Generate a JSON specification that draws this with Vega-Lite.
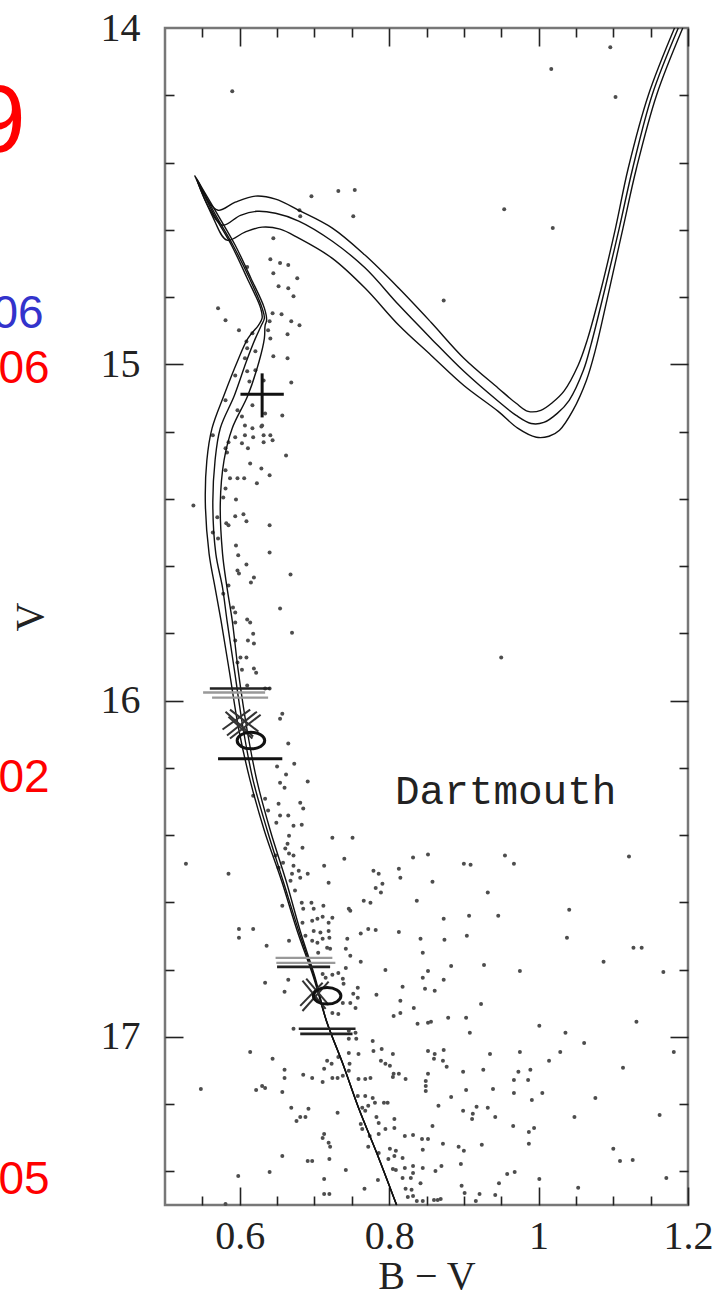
{
"$schema": "https://vega.github.io/schema/vega-lite/v6.json",
"width": 523, "height": 1177,
"autosize": {"type": "none"},
"padding": {"left": 165, "top": 28, "right": 35, "bottom": 92},
"background": "white",
"config": {
  "view": {"stroke": "#777", "strokeWidth": 2.5},
  "axis": {"grid": false, "domain": false, "labelFont": "Liberation Serif", "labelFontSize": 40, "labelColor": "#222", "titleFont": "Liberation Serif", "titleFontSize": 40, "titleFontWeight": "normal", "titleColor": "#222", "tickColor": "#222", "tickWidth": 1.6}
},
"resolve": {"axis": {"x": "independent", "y": "independent"}, "scale": {"x": "shared", "y": "shared"}},
"datasets": {
"stars": [
{"b":0.590,"v":14.188},{"b":0.696,"v":14.500},{"b":0.732,"v":14.485},{"b":0.754,"v":14.482},{"b":0.752,"v":14.560},{"b":0.680,"v":14.542},{"b":0.681,"v":14.560},{"b":0.645,"v":14.625},{"b":0.641,"v":14.688},{"b":0.654,"v":14.699},{"b":0.665,"v":14.705},{"b":0.645,"v":14.729},{"b":0.677,"v":14.744},{"b":0.610,"v":14.711},{"b":0.652,"v":14.768},{"b":0.665,"v":14.774},{"b":0.672,"v":14.798},{"b":0.571,"v":14.833},{"b":0.581,"v":14.869},{"b":0.599,"v":14.899},{"b":0.644,"v":14.848},{"b":0.656,"v":14.851},{"b":0.669,"v":14.872},{"b":0.680,"v":14.884},{"b":0.664,"v":14.911},{"b":0.640,"v":14.872},{"b":0.638,"v":14.899},{"b":0.617,"v":14.908},{"b":0.609,"v":14.932},{"b":0.610,"v":14.952},{"b":0.621,"v":14.961},{"b":0.641,"v":14.923},{"b":0.645,"v":14.976},{"b":0.664,"v":14.982},{"b":0.607,"v":14.982},{"b":0.594,"v":15.033},{"b":0.610,"v":15.021},{"b":0.621,"v":15.018},{"b":0.632,"v":15.048},{"b":0.669,"v":15.054},{"b":0.613,"v":15.051},{"b":0.657,"v":15.152},{"b":0.634,"v":15.146},{"b":0.617,"v":15.122},{"b":0.581,"v":15.107},{"b":0.603,"v":15.155},{"b":0.607,"v":15.182},{"b":0.630,"v":15.182},{"b":0.597,"v":15.137},
{"b":1.096,"v":14.057},{"b":1.017,"v":14.122},{"b":1.103,"v":14.205},{"b":0.954,"v":14.539},{"b":1.019,"v":14.595},{"b":0.873,"v":14.810},{"b":0.950,"v":15.872},
{"b":0.617,"v":15.190},{"b":0.629,"v":15.185},{"b":0.607,"v":15.211},{"b":0.618,"v":15.217},{"b":0.632,"v":15.211},{"b":0.641,"v":15.211},{"b":0.644,"v":15.226},{"b":0.594,"v":15.217},{"b":0.603,"v":15.235},{"b":0.611,"v":15.250},{"b":0.632,"v":15.232},{"b":0.585,"v":15.232},{"b":0.583,"v":15.262},{"b":0.564,"v":15.211},{"b":0.581,"v":15.250},{"b":0.662,"v":15.271},{"b":0.614,"v":15.295},{"b":0.629,"v":15.310},{"b":0.640,"v":15.330},{"b":0.623,"v":15.354},{"b":0.581,"v":15.315},{"b":0.587,"v":15.339},{"b":0.597,"v":15.339},{"b":0.606,"v":15.339},{"b":0.581,"v":15.369},{"b":0.578,"v":15.396},{"b":0.595,"v":15.402},{"b":0.538,"v":15.420},{"b":0.570,"v":15.455},{"b":0.582,"v":15.473},{"b":0.585,"v":15.479},{"b":0.594,"v":15.452},{"b":0.605,"v":15.446},{"b":0.609,"v":15.467},{"b":0.640,"v":15.479},{"b":0.564,"v":15.500},{"b":0.571,"v":15.518},{"b":0.595,"v":15.539},{"b":0.598,"v":15.568},{"b":0.640,"v":15.560},{"b":0.609,"v":15.595},{"b":0.597,"v":15.613},{"b":0.599,"v":15.622},{"b":0.619,"v":15.634},{"b":0.615,"v":15.649},{"b":0.668,"v":15.625},{"b":0.585,"v":15.658},{"b":0.578,"v":15.682},{"b":0.591,"v":15.723},{"b":0.594,"v":15.738},{"b":0.594,"v":15.768},{"b":0.610,"v":15.759},{"b":0.614,"v":15.768},{"b":0.654,"v":15.726},{"b":0.670,"v":15.798},{"b":0.618,"v":15.801},{"b":0.611,"v":15.821},{"b":0.619,"v":15.830},{"b":0.594,"v":15.821},{"b":0.601,"v":15.872},{"b":0.609,"v":15.872},{"b":0.597,"v":15.887},{"b":0.603,"v":15.908},{"b":0.619,"v":15.905},{"b":0.622,"v":15.917},{"b":0.610,"v":15.955},{"b":0.634,"v":15.964},{"b":0.640,"v":15.964},{"b":0.657,"v":16.039},{"b":0.654,"v":16.054},{"b":0.665,"v":16.128},{"b":0.673,"v":16.188},{"b":0.650,"v":16.196},{"b":0.691,"v":16.241},{"b":0.662,"v":16.220},{"b":0.654,"v":16.244},{"b":0.660,"v":16.259},{"b":0.618,"v":16.283},{"b":0.634,"v":16.292},{"b":0.652,"v":16.307},{"b":0.681,"v":16.304},{"b":0.685,"v":16.321},{"b":0.638,"v":16.327},{"b":0.654,"v":16.342},{"b":0.665,"v":16.342},{"b":0.672,"v":16.372},{"b":0.683,"v":16.369},{"b":0.649,"v":16.363},{"b":0.666,"v":16.402},{"b":0.724,"v":16.408},{"b":0.751,"v":16.408},
{"b":0.528,"v":16.485},{"b":0.585,"v":16.515},{"b":0.664,"v":16.426},{"b":0.661,"v":16.440},{"b":0.666,"v":16.455},{"b":0.684,"v":16.438},{"b":0.648,"v":16.461},{"b":0.658,"v":16.482},{"b":0.672,"v":16.461},{"b":0.652,"v":16.497},{"b":0.672,"v":16.491},{"b":0.679,"v":16.506},{"b":0.670,"v":16.515},{"b":0.681,"v":16.527},{"b":0.691,"v":16.515},{"b":0.668,"v":16.536},{"b":0.674,"v":16.565},{"b":0.713,"v":16.491},{"b":0.740,"v":16.470},{"b":0.719,"v":16.542},{"b":0.657,"v":16.610},{"b":0.683,"v":16.601},{"b":0.685,"v":16.619},{"b":0.696,"v":16.601},{"b":0.699,"v":16.619},{"b":0.712,"v":16.610},{"b":0.748,"v":16.625},{"b":0.766,"v":16.595},{"b":0.775,"v":16.601},{"b":0.779,"v":16.506},{"b":0.786,"v":16.515},{"b":0.791,"v":16.545},{"b":0.782,"v":16.557},{"b":0.789,"v":16.571},{"b":0.813,"v":16.500},{"b":0.815,"v":16.527},{"b":0.832,"v":16.467},{"b":0.852,"v":16.458},{"b":0.837,"v":16.595},{"b":0.599,"v":16.679},{"b":0.618,"v":16.679},{"b":0.599,"v":16.705},{"b":0.636,"v":16.729},{"b":0.666,"v":16.714},{"b":0.684,"v":16.661},{"b":0.688,"v":16.699},{"b":0.697,"v":16.655},{"b":0.704,"v":16.649},{"b":0.711,"v":16.643},{"b":0.719,"v":16.661},{"b":0.724,"v":16.646},{"b":0.699,"v":16.685},{"b":0.708,"v":16.690},{"b":0.719,"v":16.685},{"b":0.720,"v":16.705},{"b":0.697,"v":16.714},{"b":0.704,"v":16.720},{"b":0.711,"v":16.708},{"b":0.717,"v":16.735},{"b":0.721,"v":16.738},{"b":0.705,"v":16.750},{"b":0.744,"v":16.708},{"b":0.742,"v":16.738},{"b":0.748,"v":16.759},{"b":0.762,"v":16.693},{"b":0.772,"v":16.679},{"b":0.782,"v":16.682},{"b":0.813,"v":16.688},{"b":0.842,"v":16.708},{"b":0.845,"v":16.750},{"b":0.746,"v":16.619},{"b":0.762,"v":16.777},{"b":0.742,"v":16.795},{"b":0.732,"v":16.810},{"b":0.738,"v":16.827},{"b":0.739,"v":16.842},{"b":0.724,"v":16.815},{"b":0.711,"v":16.813},{"b":0.715,"v":16.824},{"b":0.795,"v":16.801},{"b":0.845,"v":16.824},{"b":0.852,"v":16.804},{"b":0.660,"v":16.866},{"b":0.634,"v":16.839},{"b":0.665,"v":16.830},{"b":0.758,"v":16.854},{"b":0.752,"v":16.872},{"b":0.758,"v":16.884},{"b":0.748,"v":16.899},{"b":0.755,"v":16.914},{"b":0.738,"v":16.899},{"b":0.783,"v":16.875},{"b":0.818,"v":16.851},{"b":0.815,"v":16.893},{"b":0.833,"v":16.914},{"b":0.806,"v":16.938},{"b":0.815,"v":16.929},{"b":0.838,"v":16.961},{"b":0.852,"v":16.958},{"b":0.672,"v":16.976},{"b":0.732,"v":16.932},{"b":0.724,"v":16.929},{"b":0.746,"v":16.982},{"b":0.755,"v":16.988},{"b":0.756,"v":17.006},{"b":0.746,"v":17.006},{"b":0.778,"v":17.012},{"b":0.779,"v":17.042},{"b":0.790,"v":17.036},{"b":0.805,"v":17.051},{"b":0.746,"v":17.048},{"b":0.759,"v":17.051},{"b":0.732,"v":17.060},{"b":0.747,"v":17.080},{"b":0.746,"v":17.101},{"b":0.738,"v":17.116},{"b":0.723,"v":17.080},{"b":0.717,"v":17.071},{"b":0.713,"v":17.095},{"b":0.724,"v":17.122},{"b":0.789,"v":17.071},{"b":0.795,"v":17.080},{"b":0.801,"v":17.086},{"b":0.806,"v":17.110},{"b":0.805,"v":17.119},{"b":0.813,"v":17.110},{"b":0.822,"v":17.125},{"b":0.614,"v":17.045},{"b":0.644,"v":17.065},{"b":0.660,"v":17.098},{"b":0.660,"v":17.122},{"b":0.685,"v":17.113},{"b":0.697,"v":17.122},{"b":0.711,"v":17.134},{"b":0.731,"v":17.122},{"b":0.759,"v":17.125},{"b":0.768,"v":17.125},{"b":0.775,"v":17.122},{"b":0.630,"v":17.146},{"b":0.634,"v":17.152},{"b":0.622,"v":17.158},{"b":0.657,"v":17.164},{"b":0.548,"v":17.155},{"b":0.758,"v":17.176},{"b":0.768,"v":17.176},{"b":0.778,"v":17.182},{"b":0.764,"v":17.211},{"b":0.772,"v":17.205},{"b":0.781,"v":17.196},{"b":0.793,"v":17.196},{"b":0.798,"v":17.196},{"b":0.768,"v":17.220},{"b":0.783,"v":17.238},{"b":0.786,"v":17.256},{"b":0.807,"v":17.244},{"b":0.807,"v":17.271},{"b":0.795,"v":17.274},{"b":0.764,"v":17.274},{"b":0.762,"v":17.259},{"b":0.774,"v":17.295},{"b":0.786,"v":17.289},{"b":0.731,"v":17.226},{"b":0.681,"v":17.238},{"b":0.688,"v":17.238},{"b":0.676,"v":17.250},{"b":0.669,"v":17.211},{"b":0.692,"v":17.214},{"b":0.713,"v":17.289},{"b":0.711,"v":17.301},{"b":0.719,"v":17.315},{"b":0.721,"v":17.327},{"b":0.821,"v":17.295},{"b":0.832,"v":17.292},{"b":0.844,"v":17.304},{"b":0.852,"v":17.304},{"b":0.845,"v":17.336},{"b":0.657,"v":17.354},{"b":0.691,"v":17.369},{"b":0.697,"v":17.369},{"b":0.720,"v":17.363},{"b":0.742,"v":17.396},{"b":0.772,"v":17.327},{"b":0.786,"v":17.345},{"b":0.801,"v":17.333},{"b":0.809,"v":17.339},{"b":0.807,"v":17.354},{"b":0.799,"v":17.363},{"b":0.818,"v":17.360},{"b":0.832,"v":17.384},{"b":0.821,"v":17.390},{"b":0.809,"v":17.396},{"b":0.805,"v":17.393},{"b":0.832,"v":17.405},{"b":0.845,"v":17.390},{"b":0.829,"v":17.420},{"b":0.818,"v":17.420},{"b":0.842,"v":17.435},{"b":0.785,"v":17.426},{"b":0.713,"v":17.423},{"b":0.767,"v":17.452},{"b":0.822,"v":17.452},{"b":0.830,"v":17.455},{"b":0.832,"v":17.473},{"b":0.825,"v":17.476},{"b":0.837,"v":17.488},{"b":0.845,"v":17.488},{"b":0.713,"v":17.467},{"b":0.720,"v":17.467},{"b":0.598,"v":17.414},{"b":0.640,"v":17.402},{"b":0.581,"v":17.497},
{"b":0.900,"v":16.485},{"b":0.909,"v":16.488},{"b":0.955,"v":16.461},{"b":0.967,"v":16.485},{"b":1.121,"v":16.464},{"b":0.858,"v":16.539},{"b":0.932,"v":16.571},{"b":1.041,"v":16.622},{"b":0.873,"v":16.649},{"b":0.907,"v":16.640},{"b":0.946,"v":16.640},{"b":0.874,"v":16.711},{"b":0.904,"v":16.699},{"b":1.038,"v":16.705},{"b":1.127,"v":16.735},{"b":1.138,"v":16.735},{"b":0.883,"v":16.789},{"b":0.927,"v":16.786},{"b":0.975,"v":16.804},{"b":1.087,"v":16.777},{"b":1.167,"v":16.807},{"b":0.873,"v":16.830},{"b":0.848,"v":16.857},{"b":0.861,"v":16.863},{"b":0.923,"v":16.902},{"b":0.856,"v":16.955},{"b":0.879,"v":16.943},{"b":0.903,"v":16.943},{"b":0.908,"v":16.988},{"b":1.001,"v":16.967},{"b":1.036,"v":16.988},{"b":1.061,"v":17.018},{"b":1.131,"v":16.955},{"b":0.852,"v":17.042},{"b":0.861,"v":17.051},{"b":0.860,"v":17.065},{"b":0.873,"v":17.039},{"b":0.872,"v":17.071},{"b":0.877,"v":17.089},{"b":0.852,"v":17.110},{"b":0.935,"v":17.051},{"b":0.975,"v":17.045},{"b":1.029,"v":17.045},{"b":1.014,"v":17.071},{"b":1.181,"v":17.045},{"b":1.113,"v":17.092},{"b":0.899,"v":17.104},{"b":0.926,"v":17.098},{"b":0.973,"v":17.104},{"b":0.989,"v":17.098},{"b":0.849,"v":17.131},{"b":0.849,"v":17.146},{"b":0.849,"v":17.161},{"b":0.903,"v":17.158},{"b":0.939,"v":17.155},{"b":0.967,"v":17.128},{"b":0.986,"v":17.128},{"b":0.967,"v":17.167},{"b":1.005,"v":17.167},{"b":0.883,"v":17.179},{"b":0.866,"v":17.205},{"b":0.899,"v":17.220},{"b":0.912,"v":17.229},{"b":0.911,"v":17.244},{"b":0.917,"v":17.208},{"b":0.932,"v":17.211},{"b":0.942,"v":17.238},{"b":0.991,"v":17.188},{"b":1.076,"v":17.182},{"b":1.048,"v":17.238},{"b":1.162,"v":17.232},{"b":0.858,"v":17.265},{"b":0.966,"v":17.265},{"b":0.987,"v":17.283},{"b":0.994,"v":17.271},{"b":0.872,"v":17.318},{"b":0.893,"v":17.327},{"b":0.900,"v":17.339},{"b":0.924,"v":17.321},{"b":0.987,"v":17.318},{"b":1.100,"v":17.333},{"b":1.109,"v":17.369},{"b":1.126,"v":17.366},{"b":0.896,"v":17.378},{"b":0.870,"v":17.384},{"b":0.862,"v":17.399},{"b":0.958,"v":17.408},{"b":0.968,"v":17.402},{"b":1.001,"v":17.423},{"b":1.171,"v":17.420},{"b":0.897,"v":17.443},{"b":0.947,"v":17.435},{"b":1.053,"v":17.449},{"b":0.901,"v":17.464},{"b":0.921,"v":17.467},{"b":0.942,"v":17.470},{"b":0.916,"v":17.488},{"b":0.860,"v":17.485},{"b":0.865,"v":17.485},{"b":0.869,"v":17.482}
],
"iso": [
{"iso":"A","o":1,"b":0.810,"v":17.5},{"iso":"A","o":2,"b":0.786,"v":17.360},{"iso":"A","o":3,"b":0.759,"v":17.211},{"iso":"A","o":4,"b":0.738,"v":17.080},{"iso":"A","o":5,"b":0.716,"v":16.952},{"iso":"A","o":6,"b":0.699,"v":16.824},{"iso":"A","o":7,"b":0.677,"v":16.685},{"iso":"A","o":8,"b":0.656,"v":16.536},{"iso":"A","o":9,"b":0.633,"v":16.387},{"iso":"A","o":10,"b":0.614,"v":16.238},{"iso":"A","o":11,"b":0.599,"v":16.089},{"iso":"A","o":12,"b":0.586,"v":15.911},{"iso":"A","o":13,"b":0.575,"v":15.762},{"iso":"A","o":14,"b":0.567,"v":15.664},{"iso":"A","o":15,"b":0.559,"v":15.563},{"iso":"A","o":16,"b":0.554,"v":15.414},{"iso":"A","o":17,"b":0.556,"v":15.286},{"iso":"A","o":18,"b":0.563,"v":15.190},{"iso":"A","o":19,"b":0.579,"v":15.092},{"iso":"A","o":20,"b":0.597,"v":14.991},{"iso":"A","o":21,"b":0.611,"v":14.923},{"iso":"A","o":22,"b":0.625,"v":14.884},{"iso":"A","o":23,"b":0.630,"v":14.863},{"iso":"A","o":24,"b":0.628,"v":14.833},{"iso":"A","o":25,"b":0.610,"v":14.744},{"iso":"A","o":26,"b":0.589,"v":14.646},{"iso":"A","o":27,"b":0.566,"v":14.557},{"iso":"A","o":28,"b":0.550,"v":14.485},{"iso":"A","o":29,"b":0.540,"v":14.440},{"iso":"A","o":30,"b":0.555,"v":14.506},{"iso":"A","o":31,"b":0.571,"v":14.542},{"iso":"A","o":32,"b":0.594,"v":14.518},{"iso":"A","o":33,"b":0.621,"v":14.500},{"iso":"A","o":34,"b":0.648,"v":14.509},{"iso":"A","o":35,"b":0.679,"v":14.542},{"iso":"A","o":36,"b":0.724,"v":14.595},{"iso":"A","o":37,"b":0.768,"v":14.676},{"iso":"A","o":38,"b":0.813,"v":14.774},{"iso":"A","o":39,"b":0.856,"v":14.875},{"iso":"A","o":40,"b":0.900,"v":14.982},{"iso":"A","o":41,"b":0.946,"v":15.071},{"iso":"A","o":42,"b":0.970,"v":15.116},{"iso":"A","o":43,"b":0.986,"v":15.140},{"iso":"A","o":44,"b":1.003,"v":15.137},{"iso":"A","o":45,"b":1.019,"v":15.113},{"iso":"A","o":46,"b":1.034,"v":15.080},{"iso":"A","o":47,"b":1.053,"v":15.003},{"iso":"A","o":48,"b":1.065,"v":14.929},{"iso":"A","o":49,"b":1.084,"v":14.774},{"iso":"A","o":50,"b":1.103,"v":14.595},{"iso":"A","o":51,"b":1.120,"v":14.417},{"iso":"A","o":52,"b":1.147,"v":14.199},{"iso":"A","o":53,"b":1.182,"v":14.000},
{"iso":"B","o":1,"b":0.810,"v":17.5},{"iso":"B","o":2,"b":0.786,"v":17.360},{"iso":"B","o":3,"b":0.759,"v":17.211},{"iso":"B","o":4,"b":0.738,"v":17.080},{"iso":"B","o":5,"b":0.716,"v":16.952},{"iso":"B","o":6,"b":0.700,"v":16.824},{"iso":"B","o":7,"b":0.679,"v":16.685},{"iso":"B","o":8,"b":0.658,"v":16.536},{"iso":"B","o":9,"b":0.637,"v":16.387},{"iso":"B","o":10,"b":0.618,"v":16.238},{"iso":"B","o":11,"b":0.605,"v":16.089},{"iso":"B","o":12,"b":0.593,"v":15.911},{"iso":"B","o":13,"b":0.583,"v":15.762},{"iso":"B","o":14,"b":0.577,"v":15.664},{"iso":"B","o":15,"b":0.568,"v":15.563},{"iso":"B","o":16,"b":0.564,"v":15.414},{"iso":"B","o":17,"b":0.567,"v":15.286},{"iso":"B","o":18,"b":0.574,"v":15.190},{"iso":"B","o":19,"b":0.593,"v":15.092},{"iso":"B","o":20,"b":0.609,"v":14.991},{"iso":"B","o":21,"b":0.621,"v":14.923},{"iso":"B","o":22,"b":0.629,"v":14.884},{"iso":"B","o":23,"b":0.633,"v":14.863},{"iso":"B","o":24,"b":0.630,"v":14.833},{"iso":"B","o":25,"b":0.613,"v":14.744},{"iso":"B","o":26,"b":0.591,"v":14.646},{"iso":"B","o":27,"b":0.568,"v":14.557},{"iso":"B","o":28,"b":0.551,"v":14.485},{"iso":"B","o":29,"b":0.542,"v":14.446},{"iso":"B","o":30,"b":0.557,"v":14.527},{"iso":"B","o":31,"b":0.577,"v":14.586},{"iso":"B","o":32,"b":0.601,"v":14.557},{"iso":"B","o":33,"b":0.623,"v":14.545},{"iso":"B","o":34,"b":0.648,"v":14.551},{"iso":"B","o":35,"b":0.679,"v":14.574},{"iso":"B","o":36,"b":0.724,"v":14.634},{"iso":"B","o":37,"b":0.768,"v":14.714},{"iso":"B","o":38,"b":0.813,"v":14.824},{"iso":"B","o":39,"b":0.856,"v":14.923},{"iso":"B","o":40,"b":0.900,"v":15.021},{"iso":"B","o":41,"b":0.946,"v":15.110},{"iso":"B","o":42,"b":0.970,"v":15.152},{"iso":"B","o":43,"b":0.990,"v":15.176},{"iso":"B","o":44,"b":1.007,"v":15.173},{"iso":"B","o":45,"b":1.025,"v":15.146},{"iso":"B","o":46,"b":1.041,"v":15.107},{"iso":"B","o":47,"b":1.060,"v":15.018},{"iso":"B","o":48,"b":1.070,"v":14.943},{"iso":"B","o":49,"b":1.089,"v":14.774},{"iso":"B","o":50,"b":1.108,"v":14.595},{"iso":"B","o":51,"b":1.126,"v":14.417},{"iso":"B","o":52,"b":1.152,"v":14.199},{"iso":"B","o":53,"b":1.187,"v":14.000},
{"iso":"C","o":1,"b":0.810,"v":17.5},{"iso":"C","o":2,"b":0.786,"v":17.360},{"iso":"C","o":3,"b":0.759,"v":17.211},{"iso":"C","o":4,"b":0.738,"v":17.080},{"iso":"C","o":5,"b":0.716,"v":16.952},{"iso":"C","o":6,"b":0.701,"v":16.824},{"iso":"C","o":7,"b":0.681,"v":16.685},{"iso":"C","o":8,"b":0.662,"v":16.536},{"iso":"C","o":9,"b":0.641,"v":16.387},{"iso":"C","o":10,"b":0.623,"v":16.238},{"iso":"C","o":11,"b":0.610,"v":16.089},{"iso":"C","o":12,"b":0.598,"v":15.911},{"iso":"C","o":13,"b":0.590,"v":15.762},{"iso":"C","o":14,"b":0.583,"v":15.664},{"iso":"C","o":15,"b":0.577,"v":15.563},{"iso":"C","o":16,"b":0.574,"v":15.414},{"iso":"C","o":17,"b":0.579,"v":15.286},{"iso":"C","o":18,"b":0.590,"v":15.190},{"iso":"C","o":19,"b":0.611,"v":15.092},{"iso":"C","o":20,"b":0.626,"v":14.991},{"iso":"C","o":21,"b":0.633,"v":14.923},{"iso":"C","o":22,"b":0.634,"v":14.884},{"iso":"C","o":23,"b":0.636,"v":14.869},{"iso":"C","o":24,"b":0.633,"v":14.833},{"iso":"C","o":25,"b":0.615,"v":14.744},{"iso":"C","o":26,"b":0.594,"v":14.646},{"iso":"C","o":27,"b":0.571,"v":14.557},{"iso":"C","o":28,"b":0.552,"v":14.485},{"iso":"C","o":29,"b":0.543,"v":14.452},{"iso":"C","o":30,"b":0.563,"v":14.557},{"iso":"C","o":31,"b":0.583,"v":14.631},{"iso":"C","o":32,"b":0.607,"v":14.607},{"iso":"C","o":33,"b":0.630,"v":14.592},{"iso":"C","o":34,"b":0.654,"v":14.598},{"iso":"C","o":35,"b":0.679,"v":14.625},{"iso":"C","o":36,"b":0.724,"v":14.685},{"iso":"C","o":37,"b":0.768,"v":14.774},{"iso":"C","o":38,"b":0.813,"v":14.884},{"iso":"C","o":39,"b":0.856,"v":14.973},{"iso":"C","o":40,"b":0.900,"v":15.063},{"iso":"C","o":41,"b":0.946,"v":15.140},{"iso":"C","o":42,"b":0.972,"v":15.190},{"iso":"C","o":43,"b":0.997,"v":15.217},{"iso":"C","o":44,"b":1.014,"v":15.214},{"iso":"C","o":45,"b":1.028,"v":15.196},{"iso":"C","o":46,"b":1.046,"v":15.137},{"iso":"C","o":47,"b":1.064,"v":15.048},{"iso":"C","o":48,"b":1.076,"v":14.958},{"iso":"C","o":49,"b":1.095,"v":14.774},{"iso":"C","o":50,"b":1.113,"v":14.595},{"iso":"C","o":51,"b":1.131,"v":14.417},{"iso":"C","o":52,"b":1.158,"v":14.199},{"iso":"C","o":53,"b":1.193,"v":14.000}
],
"segs": [
{"part":"plus","b":0.601,"b2":0.659,"v":15.089,"v2":15.089},
{"part":"plus","b":0.630,"b2":0.630,"v":15.027,"v2":15.158},
{"part":"bar","b":0.560,"b2":0.641,"v":15.964,"v2":15.964},
{"part":"faint bar","b":0.551,"b2":0.634,"v":15.976,"v2":15.976},
{"part":"faint bar","b":0.563,"b2":0.638,"v":15.991,"v2":15.991},
{"part":"plus","b":0.571,"b2":0.657,"v":16.173,"v2":16.173},
{"part":"faint bar","b":0.648,"b2":0.724,"v":16.765,"v2":16.765},
{"part":"faint bar","b":0.649,"b2":0.728,"v":16.780,"v2":16.780},
{"part":"bar","b":0.650,"b2":0.721,"v":16.792,"v2":16.792},
{"part":"bar","b":0.679,"b2":0.755,"v":16.976,"v2":16.976},
{"part":"bar","b":0.681,"b2":0.751,"v":16.991,"v2":16.991},
{"part":"cross","b":0.581,"b2":0.618,"v":16.033,"v2":16.107},
{"part":"cross","b":0.583,"b2":0.623,"v":16.104,"v2":16.033},
{"part":"cross","b":0.587,"b2":0.625,"v":16.027,"v2":16.092},
{"part":"cross","b":0.577,"b2":0.614,"v":16.086,"v2":16.027},
{"part":"cross","b":0.585,"b2":0.617,"v":16.048,"v2":16.113},
{"part":"cross","b":0.587,"b2":0.628,"v":16.113,"v2":16.042},
{"part":"cross","b":0.684,"b2":0.715,"v":16.833,"v2":16.917},
{"part":"cross","b":0.684,"b2":0.719,"v":16.923,"v2":16.836},
{"part":"cross","b":0.689,"b2":0.719,"v":16.827,"v2":16.905},
{"part":"cross","b":0.681,"b2":0.711,"v":16.908,"v2":16.839}
],
"ellipses": [{"b":0.615,"v":16.119},{"b":0.717,"v":16.878}],
"label": [{"b":0.956,"v":16.307,"t":"Dartmouth"}],
"bigred": [{"b":0.3134,"v":14.369,"t":"9"}],
"red": [{"b":0.3456,"v":15.057,"t":"06"},{"b":0.3456,"v":16.271,"t":"02"},{"b":0.3456,"v":17.467,"t":"05"}],
"blue": [{"b":0.3376,"v":14.893,"t":"06"}]
},
"layer": [
{"data": {"name": "stars"},
 "mark": {"type": "point", "filled": true, "shape": "circle", "size": 16, "color": "#4d4d4d", "opacity": 1},
 "encoding": {
  "x": {"field": "b", "type": "quantitative", "scale": {"domain": [0.5, 1.2], "nice": false, "zero": false},
        "axis": {"orient": "bottom", "values": [0.6, 0.8, 1, 1.2], "format": "~g", "ticks": false, "labelPadding": 11, "labelFlush": false, "title": "B − V", "titlePadding": 0}},
  "y": {"field": "v", "type": "quantitative", "scale": {"domain": [14, 17.5], "reverse": true, "nice": false, "zero": false},
        "axis": {"orient": "left", "values": [14, 15, 16, 17], "format": "~g", "ticks": false, "labelPadding": 25, "title": "V", "titlePadding": 50}}
 }},
{"data": {"name": "iso"},
 "mark": {"type": "line", "color": "#111", "strokeWidth": 1.4, "interpolate": "catmull-rom"},
 "encoding": {
  "x": {"field": "b", "type": "quantitative", "scale": {"domain": [0.5, 1.2], "nice": false, "zero": false},
        "axis": {"orient": "bottom", "values": [0.6, 0.8, 1, 1.2], "labels": false, "tickSize": -18, "title": null}},
  "y": {"field": "v", "type": "quantitative", "scale": {"domain": [14, 17.5], "reverse": true, "nice": false, "zero": false},
        "axis": {"orient": "left", "values": [15, 16, 17], "labels": false, "tickSize": -18, "title": null}},
  "detail": {"field": "iso"},
  "order": {"field": "o", "type": "quantitative"}
 }},
{"data": {"name": "segs"},
 "mark": {"type": "rule"},
 "encoding": {
  "x": {"field": "b", "type": "quantitative", "scale": {"domain": [0.5, 1.2], "nice": false, "zero": false},
        "axis": {"orient": "bottom", "values": [0.55, 0.65, 0.7, 0.75, 0.85, 0.9, 0.95, 1.05, 1.1, 1.15], "labels": false, "tickSize": -9, "title": null}},
  "x2": {"field": "b2"},
  "y": {"field": "v", "type": "quantitative", "scale": {"domain": [14, 17.5], "reverse": true, "nice": false, "zero": false},
        "axis": {"orient": "left", "values": [14.2, 14.4, 14.6, 14.8, 15.2, 15.4, 15.6, 15.8, 16.2, 16.4, 16.6, 16.8, 17.2, 17.4], "labels": false, "tickSize": -9, "title": null}},
  "y2": {"field": "v2"},
  "color": {"field": "part", "type": "nominal", "scale": {"domain": ["plus", "bar", "faint bar", "cross"], "range": ["#111", "#222", "#999", "#333"]}, "legend": null},
  "strokeWidth": {"field": "part", "type": "nominal", "scale": {"domain": ["plus", "bar", "faint bar", "cross"], "range": [3, 2, 2, 1.5]}, "legend": null}
 }},
{"data": {"name": "ellipses"},
 "mark": {"type": "point", "filled": false, "shape": "M-1,0A1,0.6,0,1,0,1,0A1,0.6,0,1,0,-1,0Z", "size": 760, "strokeWidth": 3, "color": "#111", "opacity": 1},
 "encoding": {
  "x": {"field": "b", "type": "quantitative", "scale": {"domain": [0.5, 1.2], "nice": false, "zero": false},
        "axis": {"orient": "top", "values": [0.6, 0.8, 1, 1.2], "labels": false, "tickSize": -18, "title": null}},
  "y": {"field": "v", "type": "quantitative", "scale": {"domain": [14, 17.5], "reverse": true, "nice": false, "zero": false},
        "axis": {"orient": "right", "values": [15, 16, 17], "labels": false, "tickSize": -18, "title": null}}
 }},
{"data": {"name": "label"},
 "mark": {"type": "text", "font": "Liberation Mono", "fontSize": 41, "color": "#222", "align": "center", "baseline": "alphabetic"},
 "encoding": {
  "x": {"field": "b", "type": "quantitative", "scale": {"domain": [0.5, 1.2], "nice": false, "zero": false},
        "axis": {"orient": "top", "values": [0.55, 0.65, 0.7, 0.75, 0.85, 0.9, 0.95, 1.05, 1.1, 1.15], "labels": false, "tickSize": -9, "title": null}},
  "y": {"field": "v", "type": "quantitative", "scale": {"domain": [14, 17.5], "reverse": true, "nice": false, "zero": false},
        "axis": {"orient": "right", "values": [14.2, 14.4, 14.6, 14.8, 15.2, 15.4, 15.6, 15.8, 16.2, 16.4, 16.6, 16.8, 17.2, 17.4], "labels": false, "tickSize": -9, "title": null}},
  "text": {"field": "t"}
 }},
{"data": {"name": "bigred"},
 "mark": {"type": "text", "font": "Liberation Sans", "fontSize": 96, "color": "#ff0000", "align": "right", "baseline": "alphabetic"},
 "encoding": {
  "x": {"field": "b", "type": "quantitative", "scale": {"domain": [0.5, 1.2], "nice": false, "zero": false}, "axis": null},
  "y": {"field": "v", "type": "quantitative", "scale": {"domain": [14, 17.5], "reverse": true, "nice": false, "zero": false}, "axis": null},
  "text": {"field": "t"}
 }},
{"data": {"name": "red"},
 "mark": {"type": "text", "font": "Liberation Sans", "fontSize": 46, "color": "#ff0000", "align": "right", "baseline": "alphabetic"},
 "encoding": {
  "x": {"field": "b", "type": "quantitative", "scale": {"domain": [0.5, 1.2], "nice": false, "zero": false}, "axis": null},
  "y": {"field": "v", "type": "quantitative", "scale": {"domain": [14, 17.5], "reverse": true, "nice": false, "zero": false}, "axis": null},
  "text": {"field": "t"}
 }},
{"data": {"name": "blue"},
 "mark": {"type": "text", "font": "Liberation Sans", "fontSize": 46, "color": "#3333cc", "align": "right", "baseline": "alphabetic"},
 "encoding": {
  "x": {"field": "b", "type": "quantitative", "scale": {"domain": [0.5, 1.2], "nice": false, "zero": false}, "axis": null},
  "y": {"field": "v", "type": "quantitative", "scale": {"domain": [14, 17.5], "reverse": true, "nice": false, "zero": false}, "axis": null},
  "text": {"field": "t"}
 }}
]
}
